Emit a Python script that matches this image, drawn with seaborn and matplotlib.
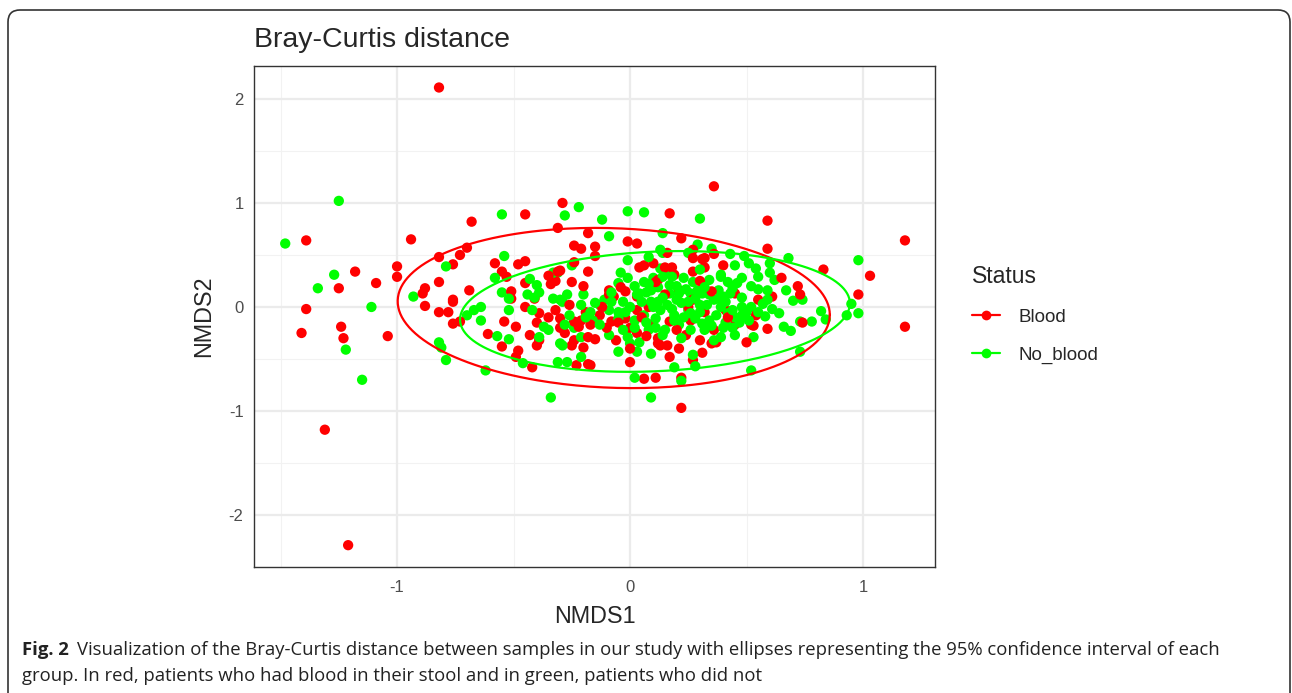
import numpy as np
import pandas as pd
import matplotlib
matplotlib.use("Agg")
import matplotlib.pyplot as plt
from matplotlib.lines import Line2D
from matplotlib.patches import FancyBboxPatch
import seaborn as sns

# NMDS coordinates
blood_x = [-0.82, 0.36, -1.39, -0.94, -1.00, -1.00, -1.18, -1.09, -1.25, -1.39,
           -1.41, -1.24, -1.23, -1.04, -1.31, -1.21, 1.18, 1.18, 1.03, 0.98,
           0.83, 0.59, 0.22, -0.29, -0.45, -0.68, -0.31, -0.18, -0.24, -0.21,
           -0.15, -0.15, 0.17, -0.01, 0.03, 0.22, 0.59, 0.72, 0.73, 0.65,
           0.40, 0.32, 0.27, 0.31, 0.36, 0.27, 0.16, 0.04, 0.06, 0.10,
           0.15, 0.18, 0.19, -0.04, -0.09, -0.07, 0.12, 0.21, 0.45, 0.55,
           0.61, 0.03, 0.03, 0.74, 0.59, 0.53, 0.50, 0.35, 0.31, 0.27,
           0.22, 0.11, 0.06, 0.17, 0.00, 0.21, 0.16, 0.12, -0.06, 0.03,
           -0.17, -0.23, -0.82, -0.70, -0.73, -0.76, -0.58, -0.48, -0.45, -0.30,
           -0.34, -0.32, -0.18, -0.24, -0.25, -0.20, -0.55, -0.53, -0.45, -0.51,
           -0.51, -0.41, -0.45, -0.39, -0.69, -0.82, -0.88, -0.89, -0.88, -0.82,
           -0.78, -0.76, -0.76, -0.73, -0.61, -0.55, -0.54, -0.49, -0.48, -0.49,
           -0.42, -0.43, -0.40, -0.39, -0.40, -0.30, -0.25, -0.20, -0.24, -0.18,
           -0.76, -0.35, -0.34, 0.54, 0.52, 0.45, 0.37, 0.41, 0.12, -0.13,
           -0.08, -0.02, 0.09, 0.17, 0.26, 0.32, 0.36, 0.30, 0.00, -0.21,
           0.13, 0.24, -0.32, -0.30, -0.26, -0.24, -0.19, -0.17, -0.15, -0.18,
           -0.22, 0.11, 0.27, 0.27, 0.32, -0.31, -0.09,
           -0.10, -0.05, 0.05, 0.08, 0.20, 0.25, -0.12, -0.02, 0.15, 0.30,
           0.42, 0.35, -0.28, -0.35, 0.00, 0.07]
blood_y = [2.11, 1.16, 0.64, 0.65, 0.39, 0.29, 0.34, 0.23, 0.18, -0.02,
           -0.25, -0.19, -0.30, -0.28, -1.18, -2.29, 0.64, -0.19, 0.30, 0.12,
           0.36, 0.83, -0.97, 1.00, 0.89, 0.82, 0.76, 0.71, 0.59, 0.56,
           0.58, 0.49, 0.90, 0.63, 0.61, 0.66, 0.56, 0.20, 0.12, 0.28,
           0.40, 0.38, 0.34, 0.46, 0.51, 0.55, 0.52, 0.38, 0.40, 0.42,
           0.38, 0.38, 0.31, 0.19, 0.16, 0.10, 0.26, 0.16, 0.13, 0.07,
           0.10, -0.03, 0.10, -0.15, -0.21, -0.18, -0.34, -0.35, -0.44, -0.51,
           -0.68, -0.68, -0.69, -0.48, -0.53, -0.40, -0.37, -0.35, -0.32, -0.25,
           -0.56, -0.56, 0.48, 0.57, 0.50, 0.41, 0.42, 0.41, 0.44, 0.35,
           0.29, 0.25, 0.34, 0.43, 0.24, 0.20, 0.34, 0.29, 0.23, 0.15,
           0.08, 0.08, 0.00, -0.06, 0.16, 0.24, 0.18, 0.13, 0.01, -0.05,
           -0.05, 0.05, -0.16, -0.14, -0.26, -0.38, -0.14, -0.19, -0.42, -0.48,
           -0.58, -0.27, -0.37, -0.32, -0.15, -0.20, -0.37, -0.39, -0.32, -0.55,
           0.07, 0.30, 0.22, -0.08, -0.17, -0.17, -0.34, -0.03, -0.30, -0.08,
           -0.14, -0.11, -0.17, -0.14, -0.13, -0.05, -0.22, -0.32, -0.20, -0.13,
           -0.37, -0.27, -0.03, -0.11, 0.02, -0.14, -0.05, -0.17, -0.31, -0.29,
           -0.19, 0.24, 0.07, 0.47, 0.47, 0.34, 0.12,
           -0.20, -0.15, -0.10, 0.00, -0.22, 0.00, 0.00, 0.15, 0.12, 0.25,
           -0.10, 0.15, -0.25, -0.10, -0.40, -0.28]

no_blood_x = [-1.25, -1.48, -1.27, -1.34, -1.11, -1.22, -1.15, -0.55, -0.28, -0.22,
              -0.12, -0.01, 0.06, 0.30, -0.09, 0.14, 0.68, 0.98, 0.95, 0.98,
              0.93, 0.82, 0.84, 0.78, 0.73, 0.66, 0.69, 0.73, 0.58, 0.61,
              0.64, 0.53, 0.52, 0.74, 0.70, 0.67, 0.60, 0.60, 0.62, 0.29,
              0.35, 0.43, 0.49, 0.51, 0.14, 0.25, -0.01, 0.13, 0.16, -0.04,
              -0.01, -0.05, 0.10, 0.18, 0.23, 0.27, 0.34, 0.39, 0.42, 0.46,
              0.48, 0.55, 0.55, 0.59, 0.48, 0.52, 0.59, -0.11, -0.12, -0.03,
              0.00, 0.04, 0.09, 0.12, 0.17, 0.21, 0.26, 0.29, 0.31, 0.36,
              0.40, 0.43, 0.39, 0.38, 0.08, 0.13, -0.25, -0.31, -0.27, -0.20,
              0.03, 0.07, 0.14, 0.17, 0.34, -0.54, -0.58, -0.55, -0.43, -0.40,
              -0.39, -0.44, -0.41, -0.33, -0.79, -0.93, -0.52, -0.33, -0.29, -0.52,
              -0.42, -0.70, -0.67, -0.64, -0.64, -0.82, -0.81, -0.79, -0.62, -0.57,
              -0.52, -0.46, -0.34, -0.39, -0.37, -0.35, -0.30, -0.29, -0.31, -0.27,
              -0.21, 0.02, 0.09, 0.22, 0.19, 0.28, 0.27, 0.09, 0.03, -0.05,
              0.00, 0.04, -0.01, -0.09, -0.24, -0.21, -0.16, 0.39, 0.42, 0.45,
              0.48, 0.51, 0.41, 0.44, 0.45, 0.39, 0.48, -0.13, -0.09, -0.05,
              -0.02, 0.02, 0.06, 0.11, 0.13, 0.16, 0.19, 0.21, 0.25, 0.28,
              0.30, 0.34, 0.08, 0.15, 0.26, 0.32, 0.36, -0.13, -0.17, -0.21,
              -0.26, -0.30, -0.28, 0.09, 0.20, 0.25, -0.08, 0.06, 0.30, 0.45,
              0.54,
              0.05, 0.10, 0.14, 0.18, 0.22, 0.26, 0.30, 0.33, 0.37, 0.41,
              0.44, 0.47, 0.50, 0.07, 0.11, 0.19, 0.23, 0.31, 0.35, 0.40,
              -0.05, -0.08, -0.15, -0.19, 0.02, 0.08, 0.20, 0.24, 0.32, 0.44,
              0.52, 0.57, 0.55, 0.02, -0.03, 0.14, 0.22, 0.12, 0.28, 0.38]
no_blood_y = [1.02, 0.61, 0.31, 0.18, 0.00, -0.41, -0.70, 0.89, 0.88, 0.96,
              0.84, 0.92, 0.91, 0.85, 0.68, 0.71, 0.47, 0.45, 0.03, -0.06,
              -0.08, -0.04, -0.12, -0.14, -0.14, -0.19, -0.23, -0.43, -0.09, -0.02,
              -0.06, -0.29, -0.61, 0.07, 0.06, 0.16, 0.42, 0.33, 0.26, 0.60,
              0.56, 0.51, 0.49, 0.42, 0.52, 0.52, 0.45, 0.37, 0.33, 0.33,
              0.28, 0.23, 0.28, 0.29, 0.28, 0.24, 0.26, 0.29, 0.24, 0.23,
              0.28, 0.29, 0.17, 0.16, 0.09, 0.00, 0.07, 0.07, 0.00, 0.05,
              0.00, 0.13, 0.16, 0.19, 0.13, 0.13, 0.13, 0.16, 0.13, 0.07,
              0.10, 0.13, 0.31, 0.16, 0.48, 0.55, 0.40, 0.33, 0.12, 0.12,
              0.12, 0.14, 0.29, 0.21, 0.12, 0.49, 0.28, 0.14, 0.27, 0.21,
              0.14, 0.12, 0.09, 0.33, 0.39, 0.10, 0.08, 0.08, 0.05, -0.03,
              -0.03, -0.08, -0.03, 0.00, -0.13, -0.34, -0.39, -0.51, -0.61, -0.28,
              -0.31, -0.54, -0.87, -0.29, -0.19, -0.22, -0.35, -0.37, -0.53, -0.53,
              -0.48, -0.68, -0.87, -0.71, -0.58, -0.57, -0.46, -0.45, -0.43, -0.43,
              -0.35, -0.34, -0.29, -0.27, -0.20, -0.29, -0.13, 0.00, -0.06, -0.10,
              -0.08, -0.13, -0.15, -0.20, -0.27, -0.29, 0.00, 0.02, -0.03, -0.11,
              -0.05, -0.13, -0.08, -0.11, -0.03, 0.02, -0.08, -0.17, -0.03, -0.11,
              0.02, -0.13, -0.22, -0.22, -0.22, -0.22, -0.32, -0.17, -0.05, 0.02,
              -0.08, 0.07, -0.17, 0.05, 0.07, 0.05, 0.14, 0.24, 0.36, 0.40,
              0.37,
              0.05, 0.00, 0.09, -0.02, 0.04, -0.06, -0.05, 0.02, -0.08, 0.05,
              -0.03, -0.15, -0.05, -0.15, -0.20, -0.13, -0.10, -0.16, -0.18, -0.20,
              -0.05, 0.05, 0.04, -0.10, 0.20, 0.22, 0.20, 0.17, 0.19, 0.18,
              0.20, 0.03, -0.05, -0.20, -0.22, -0.27, -0.30, 0.05, 0.08, 0.08]

# 95% ellipses: centre and shape matrix [[a, b], [b, c]]
ell_center = {"Blood": (-0.07, -0.01), "No_blood": (0.107, -0.043)}
ell_shape = {"Blood": [[0.86, -0.06], [-0.06, 0.593]],
             "No_blood": [[0.70, 0.065], [0.065, 0.337]]}

colors = {"Blood": "#FF0000", "No_blood": "#00FF00"}

red = pd.DataFrame({"NMDS1": blood_x, "NMDS2": blood_y, "Status": "Blood"})
green = pd.DataFrame({"NMDS1": no_blood_x, "NMDS2": no_blood_y, "Status": "No_blood"})
# interleave the two groups so neither sits entirely on top
red["order"] = np.arange(len(red)) * 2
green["order"] = np.arange(len(green)) * 2 + 1
df = pd.concat([red, green]).sort_values("order").reset_index(drop=True)

sns.set_style("white")
plt.rcParams["font.family"] = ["Liberation Sans", "DejaVu Sans"]

fig = plt.figure(figsize=(12.92, 6.93), dpi=100)
ax = fig.add_axes([0.1966, 0.1818, 0.5271, 0.7230])

# grid like theme_bw
for v in [-1.5, -0.5, 0.5]:
    ax.axvline(v, color="#F2F2F2", lw=0.8, zorder=0)
for v in [-1.5, -0.5, 0.5, 1.5]:
    ax.axhline(v, color="#F2F2F2", lw=0.8, zorder=0)
for v in [-1, 0, 1]:
    ax.axvline(v, color="#EBEBEB", lw=1.6, zorder=0)
for v in [-2, -1, 0, 1, 2]:
    ax.axhline(v, color="#EBEBEB", lw=1.6, zorder=0)

sns.scatterplot(data=df, x="NMDS1", y="NMDS2", hue="Status", palette=colors,
                s=55, linewidth=0, legend=False, ax=ax, zorder=3)

t = np.linspace(0, 2 * np.pi, 300)
for grp in ["Blood", "No_blood"]:
    L = np.linalg.cholesky(np.array(ell_shape[grp]))
    pts = (L @ np.vstack([np.cos(t), np.sin(t)])).T + np.array(ell_center[grp])
    sns.lineplot(x=pts[:, 0], y=pts[:, 1], sort=False, estimator=None,
                 color=colors[grp], lw=1.6, ax=ax, zorder=4)

ax.set_xlim(-1.614, 1.309)
ax.set_ylim(-2.5, 2.317)
ax.set_xticks([-1, 0, 1])
ax.set_xticklabels(["-1", "0", "1"])
ax.set_yticks([-2, -1, 0, 1, 2])
ax.set_yticklabels(["-2", "-1", "0", "1", "2"])
ax.tick_params(axis="both", length=3.5, width=0.8, color="#333333",
               labelcolor="#4D4D4D", labelsize=12, pad=4)
ax.tick_params(axis="x", pad=6)
for sp in ax.spines.values():
    sp.set_color("#333333")
    sp.set_linewidth(1.0)

ax.set_xlabel("NMDS1", fontsize=16.8, labelpad=7)
ax.set_ylabel("NMDS2", fontsize=16.8, labelpad=10)
ax.set_title("Bray-Curtis distance", fontsize=20.5, loc="left", pad=14)

handles = [Line2D([0], [0], color=colors[g], lw=1.6, marker="o", markersize=7,
                  markeredgewidth=0) for g in ["Blood", "No_blood"]]
leg = fig.legend(handles, ["Blood", "No_blood"], title="Status",
                 loc="upper left", bbox_to_anchor=(0.739, 0.642),
                 frameon=False, fontsize=13.5, title_fontsize=16.5,
                 handlelength=1.5, labelspacing=1.1, handletextpad=1.0)
leg._legend_box.align = "left"

# figure frame
frame = FancyBboxPatch((0.08, -0.3), 12.82, 7.13,
                       boxstyle="round,pad=0,rounding_size=0.12",
                       transform=fig.dpi_scale_trans, fill=False,
                       edgecolor="#333333", lw=1.2, zorder=0)
fig.patches.append(frame)

cap_font = ["Open Sans", "DejaVu Sans"]
fig.text(0.017, 0.062, "Fig. 2", fontsize=13.3, fontweight="bold",
         family=cap_font, color="#222222", va="center")
fig.text(0.0595, 0.062,
         "Visualization of the Bray-Curtis distance between samples in our study with "
         "ellipses representing the 95% confidence interval of each",
         fontsize=13.3, family=cap_font, color="#222222", va="center")
fig.text(0.017, 0.024,
         "group. In red, patients who had blood in their stool and in green, patients who did not",
         fontsize=13.3, family=cap_font, color="#222222", va="center")

fig.savefig("out.png", dpi=100)
